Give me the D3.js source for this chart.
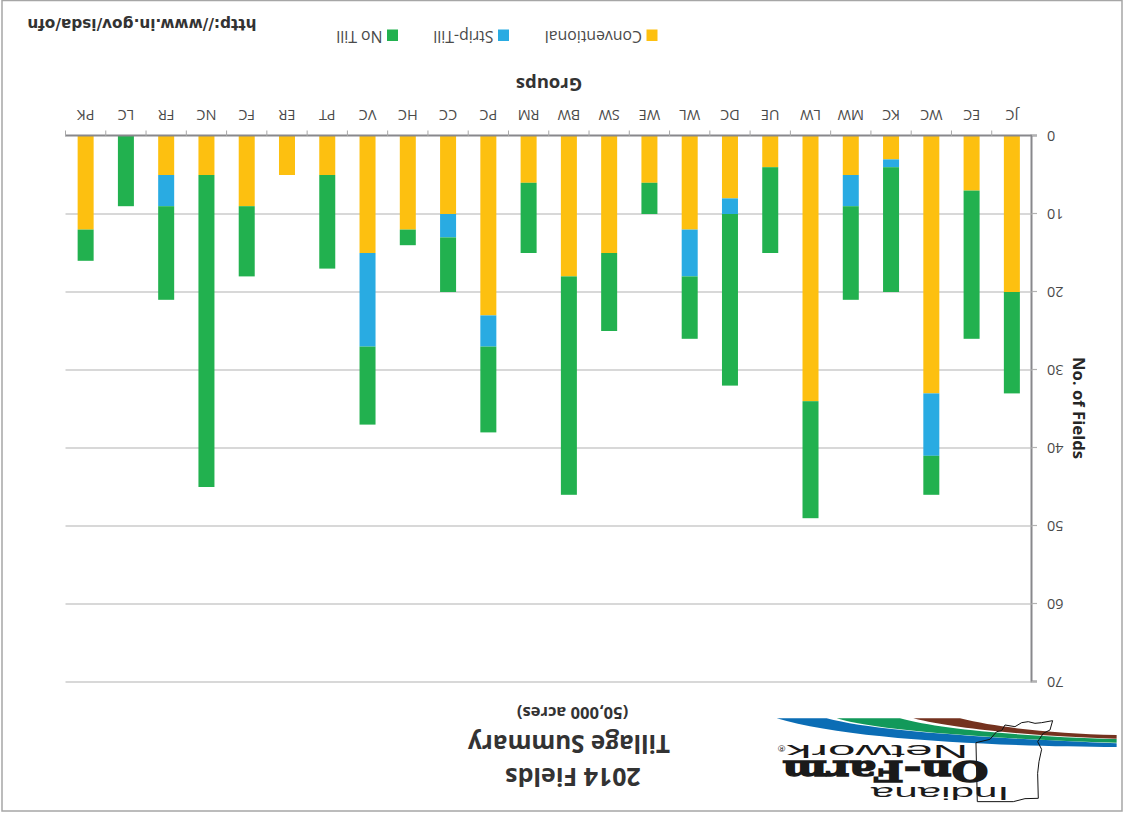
<!DOCTYPE html>
<html>
<head>
<meta charset="utf-8">
<script src="https://cdn.jsdelivr.net/npm/d3@7"></script>
<style>
html, body { margin: 0; padding: 0; background: #fff; }
svg { display: block; }
text { font-family: "Open Sans", sans-serif; }
</style>
</head>
<body>
<div id="chart"></div>
<script>
const categories = ['JC','EC','WC','KC','MW','LW','UE','DC','WL','WE','SW','BW','RM','PC','CC','HC','VC','PT','ER','FC','NC','FR','LC','PK']
const conventional = [20,7,33,3,5,34,4,8,12,6,15,18,6,23,10,12,15,5,5,9,5,5,0,12]
const stripTill = [0,0,8,1,4,0,0,2,6,0,0,0,0,4,3,0,12,0,0,0,0,4,0,0]
const noTill = [13,19,5,16,12,15,11,22,8,4,10,28,9,11,7,2,10,12,0,9,40,12,9,4]
const yTicks = [0,10,20,30,40,50,60,70]
const seriesNames = ['Conventional','Strip-Till','No Till']
const seriesColors = ['#fdc010','#29abe2','#22b14f']

const width = 1127
const height = 814
const margin = {left:95, right:65.5, top:132, bottom:136}
const labelColor = '#4a4a4a'

const svg = d3.select('#chart').append('svg')
    .attr('width', width)
    .attr('height', height)

svg.append('rect')
    .attr('x', 2).attr('y', 0.5)
    .attr('width', 1120).attr('height', 810.5)
    .attr('fill', '#fff')
    .attr('stroke', '#a6a6a6')
    .attr('stroke-width', 1.5)

// the whole page is scanned upside down, so everything is drawn upright and turned
const g = svg.append('g')
    .attr('transform', `rotate(180,${width/2},${height/2})`)

const rows = categories.map((c,i) => ({
    group: c,
    'Conventional': conventional[i],
    'Strip-Till': stripTill[i],
    'No Till': noTill[i]
}))

const xScale = d3.scaleBand()
    .domain(categories)
    .range([margin.left, width - margin.right])

const yScale = d3.scaleLinear()
    .domain([0,70])
    .range([height - margin.bottom, margin.top])

const innerRight = width - margin.right

// gridlines and y axis
const yAxis = d3.axisLeft(yScale)
    .tickValues(yTicks)
    .tickSize(5)
    .tickPadding(10)

const yAxisG = g.append('g')
    .attr('transform', `translate(${margin.left},0)`)
    .call(yAxis)
yAxisG.select('.domain').attr('stroke', '#88888c').attr('stroke-width', 2)
yAxisG.selectAll('.tick line').attr('stroke', '#b2b2b2').attr('stroke-width', 1.2)
yAxisG.selectAll('text')
    .attr('fill', labelColor)
    .style('font-size', '14.5px')
    .style('font-family', '"Open Sans", sans-serif')

g.append('g').selectAll('line').data(yTicks.slice(1)).join('line')
    .attr('x1', margin.left)
    .attr('x2', innerRight)
    .attr('y1', d => yScale(d))
    .attr('y2', d => yScale(d))
    .attr('stroke', '#b2b2b2')
    .attr('stroke-width', 1.2)

// stacked bars
const series = d3.stack().keys(seriesNames)(rows)
const barWidth = 16

g.selectAll('.series').data(series).join('g')
    .attr('class', 'series')
    .attr('fill', (_,i) => seriesColors[i])
    .selectAll('rect')
    .data(d => d)
    .join('rect')
    .attr('x', d => xScale(d.data.group) + (xScale.bandwidth() - barWidth)/2)
    .attr('y', d => yScale(d[1]))
    .attr('width', barWidth)
    .attr('height', d => yScale(d[0]) - yScale(d[1]))

// x axis, ticks sit on the band edges
const xAxis = d3.axisBottom(xScale).tickSize(0).tickPadding(16)
const xAxisG = g.append('g')
    .attr('transform', `translate(0,${height - margin.bottom})`)
    .call(xAxis)
xAxisG.select('.domain').attr('stroke', '#88888c').attr('stroke-width', 2)
xAxisG.selectAll('text')
    .attr('fill', labelColor)
    .style('font-size', '14.5px')
    .style('font-family', '"Open Sans", sans-serif')

const edges = categories.map(c => xScale(c) + xScale.bandwidth())
xAxisG.selectAll('.edge').data(edges).join('line')
    .attr('class', 'edge')
    .attr('x1', d => d).attr('x2', d => d)
    .attr('y1', 0).attr('y2', 5.5)
    .attr('stroke', '#a8a8a8')

// axis titles
g.append('text')
    .attr('x', 1127-549).attr('y', 736.5)
    .attr('text-anchor', 'middle')
    .attr('font-weight', 700).attr('font-size', 18.5)
    .attr('fill', '#333')
    .text('Groups')

g.append('text')
    .attr('transform', `translate(54,406) rotate(-90)`)
    .attr('text-anchor', 'middle')
    .attr('font-weight', 700).attr('font-size', 16.7)
    .attr('fill', '#262626')
    .text('No. of Fields')

// legend
const legendSquares = [646.5, 498, 387]
const legendG = g.append('g')
legendG.selectAll('rect').data(seriesNames).join('rect')
    .attr('x', (_,i) => width - legendSquares[i] - 11)
    .attr('y', height - 41)
    .attr('width', 11).attr('height', 11.5)
    .attr('fill', (_,i) => seriesColors[i])
legendG.selectAll('text').data(seriesNames).join('text')
    .attr('x', (_,i) => width - legendSquares[i] + 4.5)
    .attr('y', height - 31)
    .attr('font-size', 15.8)
    .attr('fill', labelColor)
    .text(d => d)

g.append('text')
    .attr('x', width - 256.5).attr('y', height - 19)
    .attr('font-weight', 700).attr('font-size', 15.3)
    .attr('fill', '#333')
    .style('font-family', '"DejaVu Sans", sans-serif')
    .text('http://www.in.gov/isda/ofn')

// chart title
const titleLines = [
    {text:'2014 Fields', x:554, y:46, size:25, weight:700},
    {text:'Tillage Summary', x:558, y:79, size:24.3, weight:700},
    {text:'(50,000 acres)', x:554.5, y:107, size:16.5, weight:700}
]
g.selectAll('.title').data(titleLines).join('text')
    .attr('class', 'title')
    .attr('x', d => d.x).attr('y', d => d.y)
    .attr('text-anchor', 'middle')
    .attr('font-weight', d => d.weight)
    .attr('font-size', d => d.size)
    .attr('fill', '#333')
    .text(d => d.text)

// logo, drawn in 3x page units from the corner of the logo area
const logo = svg.append('g')
    .attr('transform', 'translate(740,690) scale(0.3333)')

logo.append('path')
    .attr('fill', '#0b6db5')
    .attr('d', 'M110,85 L260,85 C400,122 700,142 1130,160 L1130,171 C800,170 320,150 110,85 Z')
logo.append('path')
    .attr('fill', '#12995a')
    .attr('d', 'M290,85 L480,85 C600,118 850,140 1130,147 L1130,158 C800,148 420,125 290,85 Z')
logo.append('path')
    .attr('fill', '#74321f')
    .attr('d', 'M520,85 L660,85 C780,115 950,130 1130,135 L1130,146 C900,140 650,118 520,85 Z')
logo.append('path')
    .attr('fill', 'none')
    .attr('stroke', '#111')
    .attr('stroke-width', 3)
    .attr('d', 'M712,335 L708,158 L750,148 L770,125 L785,122 L795,105 L825,110 L845,98 L865,95 L885,100 L905,98 L938,92 L930,120 L910,130 L893,155 L905,178 L897,215 L893,250 L895,325 L855,326 L820,335 Z')

const logoText = [
    {text:'Indiana', x:808, y:292, size:54, len:416, weight:400, line:0, family:'"Liberation Sans", sans-serif'},
    {text:'On-Farm', x:745, y:214, size:84, len:617, weight:700, line:4, family:'"DejaVu Serif", serif'},
    {text:'Network', x:685, y:165, size:54, len:545, weight:400, line:0, family:'"Liberation Sans", sans-serif'},
    {text:'®', x:136, y:165, size:26, len:22, weight:400, line:0, family:'"Liberation Sans", sans-serif'}
]
logo.selectAll('text').data(logoText).join('text')
    .attr('transform', d => `translate(${d.x},${d.y}) rotate(180)`)
    .attr('textLength', d => d.len)
    .attr('lengthAdjust', 'spacingAndGlyphs')
    .attr('font-size', d => d.size)
    .attr('font-weight', d => d.weight)
    .attr('stroke', '#1a1a1a')
    .attr('stroke-width', d => d.line)
    .style('font-family', d => d.family)
    .attr('fill', '#1a1a1a')
    .text(d => d.text)
</script>
</body>
</html>
